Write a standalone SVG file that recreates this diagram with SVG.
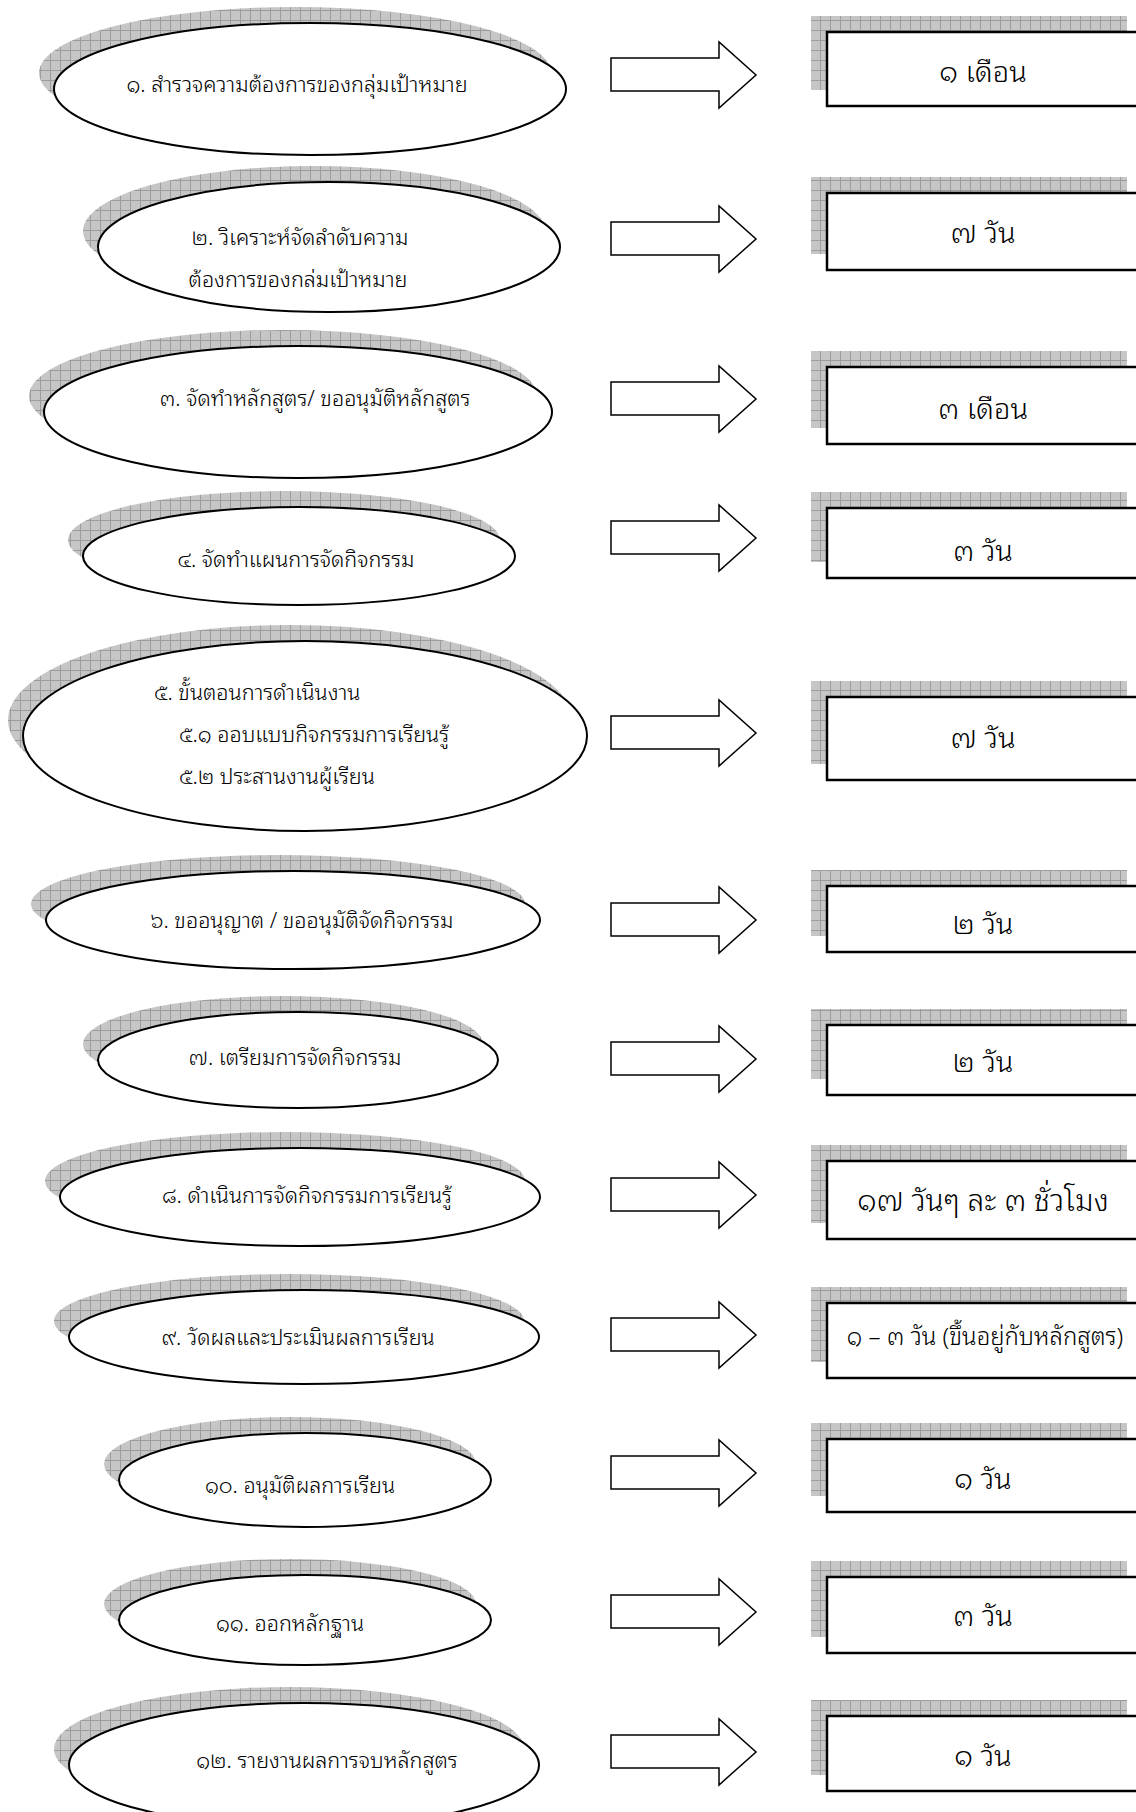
<svg xmlns="http://www.w3.org/2000/svg" width="1136" height="1812" viewBox="0 0 1136 1812">
<defs>
<pattern id="grid" width="10" height="10" patternUnits="userSpaceOnUse">
<rect width="10" height="10" fill="#c6c6c6"/>
<path d="M0,0.5H10M0.5,0V10" stroke="#9c9c9c" stroke-width="1"/>
</pattern>
<style>
.sh{fill:url(#grid)}
.ell{fill:#fff;stroke:#000;stroke-width:2}
.box{fill:#fff;stroke:#000;stroke-width:2.5}
.arr{fill:#fff;stroke:#000;stroke-width:1.5;stroke-linejoin:miter}
.t{font-family:"Noto Sans Thai Looped","Noto Serif Thai","Noto Sans Thai","Loma","Garuda","Noto Sans","DejaVu Sans",sans-serif;font-size:21.6px;font-weight:300;fill:#000;text-anchor:middle;dominant-baseline:central}
.tl{text-anchor:start}
.bt{font-size:29px}
.b8{font-size:30px}
.bs{font-size:24px}
</style>
</defs>
<rect width="1136" height="1812" fill="#fff"/>

<g id="step1">
<ellipse class="sh" cx="295" cy="73" rx="256" ry="66"/>
<ellipse class="ell" cx="310" cy="89" rx="256" ry="66"/>
<text class="t" x="297" y="82">๑. สำรวจความต้องการของกลุ่มเป้าหมาย</text>
</g>
<g id="step2">
<ellipse class="sh" cx="314" cy="231" rx="231" ry="65"/>
<ellipse class="ell" cx="329" cy="247" rx="231" ry="65"/>
<text class="t" x="300" y="235">๒. วิเคราะห์จัดลำดับความ</text>
<text class="t" x="298" y="277">ต้องการของกล่มเป้าหมาย</text>
</g>
<g id="step3">
<ellipse class="sh" cx="283" cy="396" rx="254" ry="66"/>
<ellipse class="ell" cx="298" cy="412" rx="254" ry="66"/>
<text class="t" x="315" y="396">๓. จัดทำหลักสูตร/ ขออนุมัติหลักสูตร</text>
</g>
<g id="step4">
<ellipse class="sh" cx="284" cy="540" rx="216" ry="49"/>
<ellipse class="ell" cx="299" cy="556" rx="216" ry="49"/>
<text class="t" x="296" y="557">๔. จัดทำแผนการจัดกิจกรรม</text>
</g>
<g id="step5">
<ellipse class="sh" cx="290" cy="720" rx="282" ry="95"/>
<ellipse class="ell" cx="305" cy="736" rx="282" ry="95"/>
<text class="t tl" x="154" y="690">๕. ขั้นตอนการดำเนินงาน</text>
<text class="t tl" x="179" y="732">๕.๑ ออบแบบกิจกรรมการเรียนรู้</text>
<text class="t tl" x="179" y="774">๕.๒ ประสานงานผู้เรียน</text>
</g>
<g id="step6">
<ellipse class="sh" cx="278" cy="904" rx="247" ry="49"/>
<ellipse class="ell" cx="293" cy="920" rx="247" ry="49"/>
<text class="t" x="302" y="918">๖. ขออนุญาต / ขออนุมัติจัดกิจกรรม</text>
</g>
<g id="step7">
<ellipse class="sh" cx="283" cy="1044" rx="200" ry="48"/>
<ellipse class="ell" cx="298" cy="1060" rx="200" ry="48"/>
<text class="t" x="295" y="1055">๗. เตรียมการจัดกิจกรรม</text>
</g>
<g id="step8">
<ellipse class="sh" cx="285" cy="1181" rx="240" ry="49"/>
<ellipse class="ell" cx="300" cy="1197" rx="240" ry="49"/>
<text class="t" x="307" y="1193">๘. ดำเนินการจัดกิจกรรมการเรียนรู้</text>
</g>
<g id="step9">
<ellipse class="sh" cx="289" cy="1321" rx="235" ry="47"/>
<ellipse class="ell" cx="304" cy="1337" rx="235" ry="47"/>
<text class="t" x="298" y="1335">๙. วัดผลและประเมินผลการเรียน</text>
</g>
<g id="step10">
<ellipse class="sh" cx="290" cy="1464" rx="186" ry="47"/>
<ellipse class="ell" cx="305" cy="1480" rx="186" ry="47"/>
<text class="t" x="300" y="1483">๑๐. อนุมัติผลการเรียน</text>
</g>
<g id="step11">
<ellipse class="sh" cx="290" cy="1604" rx="186" ry="45"/>
<ellipse class="ell" cx="305" cy="1620" rx="186" ry="45"/>
<text class="t" x="290" y="1621">๑๑. ออกหลักฐาน</text>
</g>
<g id="step12">
<ellipse class="sh" cx="289" cy="1749" rx="235" ry="62"/>
<ellipse class="ell" cx="304" cy="1765" rx="235" ry="62"/>
<rect x="484" y="1792" width="6" height="10" fill="#fff"/>
<text class="t" x="327" y="1758">๑๒. รายงานผลการจบหลักสูตร</text>
</g>

<g id="connectors">
<path class="arr" d="M611,58H719V42L756,75L719,108V91H611Z"/>
<path class="arr" d="M611,222H719V206L756,239L719,272V255H611Z"/>
<path class="arr" d="M611,382H719V366L756,399L719,432V415H611Z"/>
<path class="arr" d="M611,521H719V505L756,538L719,571V554H611Z"/>
<path class="arr" d="M611,716H719V700L756,733L719,766V749H611Z"/>
<path class="arr" d="M611,903H719V887L756,920L719,953V936H611Z"/>
<path class="arr" d="M611,1042H719V1026L756,1059L719,1092V1075H611Z"/>
<path class="arr" d="M611,1178H719V1162L756,1195L719,1228V1211H611Z"/>
<path class="arr" d="M611,1318H719V1302L756,1335L719,1368V1351H611Z"/>
<path class="arr" d="M611,1456H719V1440L756,1473L719,1506V1489H611Z"/>
<path class="arr" d="M611,1595H719V1579L756,1612L719,1645V1628H611Z"/>
<path class="arr" d="M611,1735H719V1719L756,1752L719,1785V1768H611Z"/>
</g>

<g id="time1"><rect class="sh" x="811" y="16" width="316" height="74"/><rect class="box" x="827" y="32" width="330" height="74"/><text class="t bt" x="983" y="69">๑ เดือน</text></g>
<g id="time2"><rect class="sh" x="811" y="177" width="316" height="77"/><rect class="box" x="827" y="193" width="330" height="77"/><text class="t bt" x="983" y="230">๗ วัน</text></g>
<g id="time3"><rect class="sh" x="811" y="351" width="316" height="77"/><rect class="box" x="827" y="367" width="330" height="77"/><text class="t bt" x="983" y="406">๓ เดือน</text></g>
<g id="time4"><rect class="sh" x="811" y="492" width="316" height="70"/><rect class="box" x="827" y="508" width="330" height="70"/><text class="t bt" x="983" y="548">๓ วัน</text></g>
<g id="time5"><rect class="sh" x="811" y="681" width="316" height="83"/><rect class="box" x="827" y="697" width="330" height="83"/><text class="t bt" x="983" y="735">๗ วัน</text></g>
<g id="time6"><rect class="sh" x="811" y="870" width="316" height="66"/><rect class="box" x="827" y="886" width="330" height="66"/><text class="t bt" x="983" y="921">๒ วัน</text></g>
<g id="time7"><rect class="sh" x="811" y="1009" width="316" height="70"/><rect class="box" x="827" y="1025" width="330" height="70"/><text class="t bt" x="983" y="1059">๒ วัน</text></g>
<g id="time8"><rect class="sh" x="811" y="1145" width="316" height="78"/><rect class="box" x="827" y="1161" width="330" height="78"/><text class="t b8" x="983" y="1197">๑๗ วันๆ ละ ๓ ชั่วโมง</text></g>
<g id="time9"><rect class="sh" x="811" y="1287" width="316" height="75"/><rect class="box" x="827" y="1303" width="330" height="75"/><text class="t bs" x="985" y="1334">๑ – ๓ วัน (ขึ้นอยู่กับหลักสูตร)</text></g>
<g id="time10"><rect class="sh" x="811" y="1423" width="316" height="73"/><rect class="box" x="827" y="1439" width="330" height="73"/><text class="t bt" x="983" y="1476">๑ วัน</text></g>
<g id="time11"><rect class="sh" x="811" y="1561" width="316" height="76"/><rect class="box" x="827" y="1577" width="330" height="76"/><text class="t bt" x="983" y="1613">๓ วัน</text></g>
<g id="time12"><rect class="sh" x="811" y="1700" width="316" height="75"/><rect class="box" x="827" y="1716" width="330" height="75"/><text class="t bt" x="983" y="1753">๑ วัน</text></g>
</svg>
